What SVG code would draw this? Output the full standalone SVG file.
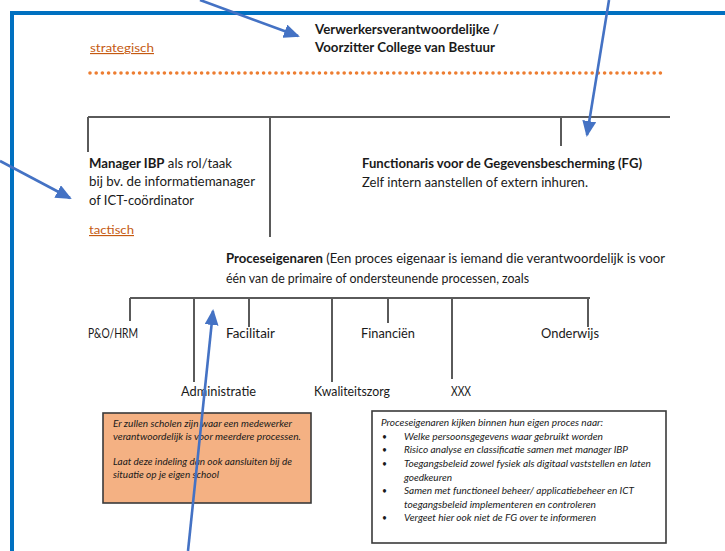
<svg xmlns="http://www.w3.org/2000/svg" width="725" height="551" viewBox="0 0 725 551">
<defs>
<style>
text{font-family:Lato,"Liberation Sans",Arial,sans-serif;fill:#1a1a1a;}
.t{font-size:12.5px;}
.b{font-weight:bold;}
.o{fill:#C55A11;font-size:11.5px;text-decoration:underline;}
.s{font-size:8.6px;font-style:italic;}
.tree{stroke:#5a5a5a;stroke-width:2;fill:none;}
.arrow{stroke:#4472C4;stroke-width:2.6;fill:none;marker-end:url(#ah);}
.box{stroke:#3a3a3a;stroke-width:1.6;}
</style>
<marker id="ah" markerUnits="userSpaceOnUse" markerWidth="16" markerHeight="14" refX="14" refY="7" orient="auto">
<path d="M0,0 L16,7 L0,14 Z" fill="#4472C4"/>
</marker>
</defs>
<rect width="725" height="551" fill="#ffffff"/>
<path d="M12,551 V13 H725" fill="none" stroke="#0070C0" stroke-width="4"/>

<g id="strategisch">
<text class="o" x="90" y="52" textLength="64" lengthAdjust="spacingAndGlyphs">strategisch</text>
</g>
<line x1="90" y1="73" x2="661" y2="73" stroke="#ED7D31" stroke-width="3.6" stroke-linecap="round" stroke-dasharray="0 6.2"/>

<g id="verwerker">
<text class="t b" x="315" y="34" textLength="184" lengthAdjust="spacingAndGlyphs">Verwerkersverantwoordelijke /</text>
<text class="t b" x="315" y="52" textLength="180" lengthAdjust="spacingAndGlyphs">Voorzitter College van Bestuur</text>
</g>

<g id="connectors">
<path class="tree" d="M88,117 H670 M88,117 V152 M270,117 V237 M561,117 V146"/>
<path class="tree" d="M130,298 H590 M130,298 V321 M194,298 V382 M249,298 V327 M332,298 V382 M388,298 V323 M452,298 V379 M588,298 V327"/>
</g>

<g id="manager">
<text class="t" x="89" y="168" textLength="143" lengthAdjust="spacingAndGlyphs"><tspan class="b">Manager IBP</tspan> als rol/taak</text>
<text class="t" x="89" y="186" textLength="166" lengthAdjust="spacingAndGlyphs">bij bv. de informatiemanager</text>
<text class="t" x="89" y="205" textLength="105" lengthAdjust="spacingAndGlyphs">of ICT-coördinator</text>
<text class="o" x="89" y="234" textLength="45" lengthAdjust="spacingAndGlyphs">tactisch</text>
</g>

<g id="fg">
<text class="t b" x="362" y="168" textLength="280" lengthAdjust="spacingAndGlyphs">Functionaris voor de Gegevensbescherming (FG)</text>
<text class="t" x="362" y="187" textLength="226" lengthAdjust="spacingAndGlyphs">Zelf intern aanstellen of extern inhuren.</text>
</g>

<g id="proceseigenaren">
<text class="t" x="226" y="263" textLength="439" lengthAdjust="spacingAndGlyphs"><tspan class="b">Proceseigenaren</tspan> (Een proces eigenaar is iemand die verantwoordelijk is voor</text>
<text class="t" x="226" y="283" textLength="303" lengthAdjust="spacingAndGlyphs">één van de primaire of ondersteunende processen, zoals</text>
</g>

<g id="po-hrm"><text class="t" x="88" y="338" textLength="50" lengthAdjust="spacingAndGlyphs">P&amp;O/HRM</text></g>
<g id="facilitair"><text class="t" x="226" y="338" textLength="49" lengthAdjust="spacingAndGlyphs">Facilitair</text></g>
<g id="financien"><text class="t" x="361" y="338" textLength="54" lengthAdjust="spacingAndGlyphs">Financiën</text></g>
<g id="onderwijs"><text class="t" x="541" y="338" textLength="58" lengthAdjust="spacingAndGlyphs">Onderwijs</text></g>
<g id="administratie"><text class="t" x="181" y="396" textLength="75" lengthAdjust="spacingAndGlyphs">Administratie</text></g>
<g id="kwaliteitszorg"><text class="t" x="314" y="396" textLength="76" lengthAdjust="spacingAndGlyphs">Kwaliteitszorg</text></g>
<g id="xxx"><text class="t" x="451" y="396" textLength="20" lengthAdjust="spacingAndGlyphs">XXX</text></g>

<g id="note-left">
<rect class="box" x="103" y="413" width="208" height="90" fill="#F4B183"/>
<text class="s" x="113" y="427" textLength="179" lengthAdjust="spacingAndGlyphs">Er zullen scholen zijn waar een medewerker</text>
<text class="s" x="113" y="440" textLength="188" lengthAdjust="spacingAndGlyphs">verantwoordelijk is voor meerdere processen.</text>
<text class="s" x="113" y="465" textLength="179" lengthAdjust="spacingAndGlyphs">Laat deze indeling dan ook aansluiten bij de</text>
<text class="s" x="113" y="478" textLength="106" lengthAdjust="spacingAndGlyphs">situatie op je eigen school</text>
</g>

<g id="note-right">
<rect class="box" x="372" y="411" width="294" height="132" fill="#ffffff"/>
<text class="s" x="381" y="426" textLength="222" lengthAdjust="spacingAndGlyphs">Proceseigenaren kijken binnen hun eigen proces naar:</text>
<g class="s">
<text class="s" x="382" y="440">•</text>
<text class="s" x="382" y="453">•</text>
<text class="s" x="382" y="467">•</text>
<text class="s" x="382" y="494">•</text>
<text class="s" x="382" y="521">•</text>
</g>
<text class="s" x="404" y="440" textLength="199" lengthAdjust="spacingAndGlyphs">Welke persoonsgegevens waar gebruikt worden</text>
<text class="s" x="404" y="453" textLength="224" lengthAdjust="spacingAndGlyphs">Risico analyse en classificatie samen met manager IBP</text>
<text class="s" x="404" y="467" textLength="247" lengthAdjust="spacingAndGlyphs">Toegangsbeleid zowel fysiek als digitaal vaststellen en laten</text>
<text class="s" x="404" y="481" textLength="48" lengthAdjust="spacingAndGlyphs">goedkeuren</text>
<text class="s" x="404" y="494" textLength="230" lengthAdjust="spacingAndGlyphs">Samen met functioneel beheer/ applicatiebeheer en ICT</text>
<text class="s" x="404" y="508" textLength="192" lengthAdjust="spacingAndGlyphs">toegangsbeleid implementeren en controleren</text>
<text class="s" x="404" y="521" textLength="192" lengthAdjust="spacingAndGlyphs">Vergeet hier ook niet de FG over te informeren</text>
</g>

<g id="arrows">
<line class="arrow" x1="200" y1="0" x2="298" y2="36"/>
<line class="arrow" x1="609" y1="0" x2="587" y2="135"/>
<line class="arrow" x1="0" y1="161" x2="70" y2="198"/>
<line class="arrow" x1="188" y1="551" x2="213" y2="311"/>
</g>
</svg>
